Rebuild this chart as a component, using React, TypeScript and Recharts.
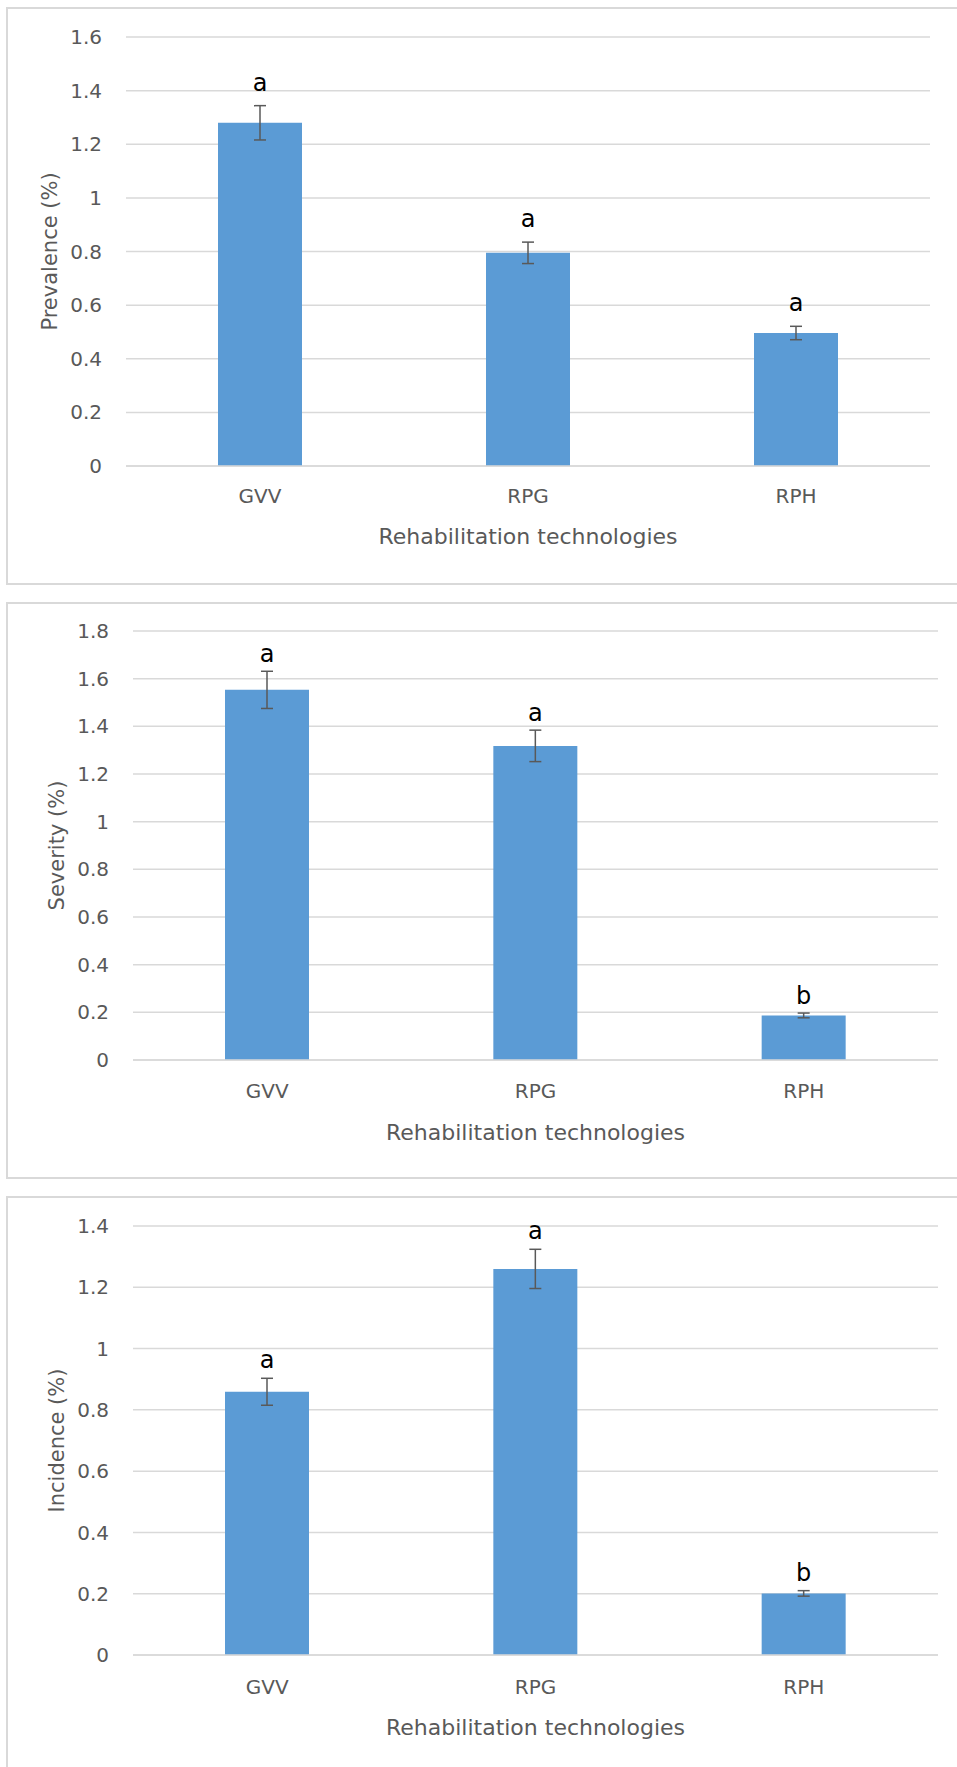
import { Bar, BarChart, CartesianGrid, ErrorBar, Label, LabelList, XAxis, YAxis } from 'recharts';

const technologies = ['GVV', 'RPG', 'RPH'];

const prevalence = [1.28, 0.795, 0.496];
const prevalenceErr = [0.064, 0.04, 0.025];
const prevalenceLetters = ['a', 'a', 'a'];
const prevalenceTicks = [0, 0.2, 0.4, 0.6, 0.8, 1, 1.2, 1.4, 1.6];

const severity = [1.553, 1.318, 0.187];
const severityErr = [0.078, 0.066, 0.01];
const severityLetters = ['a', 'a', 'b'];
const severityTicks = [0, 0.2, 0.4, 0.6, 0.8, 1, 1.2, 1.4, 1.6, 1.8];

const incidence = [0.859, 1.26, 0.201];
const incidenceErr = [0.044, 0.064, 0.009];
const incidenceLetters = ['a', 'a', 'b'];
const incidenceTicks = [0, 0.2, 0.4, 0.6, 0.8, 1, 1.2, 1.4];

const TEXT = '#595959';
const GRID = '#d9d9d9';
const BAR = '#5b9bd5';

const makeRows = (values: number[], errs: number[], letters: string[]) =>
  technologies.map((name, i) => ({ name, value: values[i], err: errs[i], letter: letters[i] }));

type PanelProps = {
  top: number;
  height: number;
  marginTop: number;
  marginBottom: number;
  marginRight: number;
  yWidth: number;
  ticks: number[];
  title: string;
  rows: ReturnType<typeof makeRows>;
  letterOffset: number;
  xTickMargin: number;
  xTitleOffset: number;
};

const Panel = (p: PanelProps) => (
  <div style={{ position: 'absolute', left: 0, top: p.top }}>
    <BarChart
      width={957}
      height={p.height}
      data={p.rows}
      margin={{ top: p.marginTop, right: p.marginRight, left: 0, bottom: p.marginBottom }}
      barSize={84}
    >
      <CartesianGrid vertical={false} stroke={GRID} strokeWidth={1.5} />
      <XAxis
        dataKey="name"
        height={90}
        tickLine={false}
        axisLine={{ stroke: GRID, strokeWidth: 1.5 }}
        tick={{ fill: TEXT, fontSize: 20 }}
        tickMargin={p.xTickMargin}
      >
        <Label
          value="Rehabilitation technologies"
          position="insideBottom"
          offset={p.xTitleOffset}
          style={{ fill: TEXT, fontSize: 22 }}
        />
      </XAxis>
      <YAxis
        width={p.yWidth}
        domain={[0, p.ticks[p.ticks.length - 1]]}
        ticks={p.ticks}
        interval={0}
        axisLine={false}
        tickLine={false}
        tickMargin={18}
        tick={{ fill: TEXT, fontSize: 20 }}
      >
        <Label
          value={p.title}
          angle={-90}
          position="insideLeft"
          offset={p.yWidth - 76}
          style={{ fill: TEXT, fontSize: 21, textAnchor: 'middle' }}
        />
      </YAxis>
      <Bar dataKey="value" stackId="s" fill={BAR} isAnimationActive={false}>
        <ErrorBar dataKey="err" width={6} stroke="#595959" strokeWidth={1.5} isAnimationActive={false} />
      </Bar>
      <Bar dataKey="err" stackId="s" fill={BAR} fillOpacity={0} isAnimationActive={false}>
        <LabelList
          dataKey="letter"
          position="top"
          offset={p.letterOffset}
          style={{ fill: '#000', fontSize: 24 }}
        />
      </Bar>
    </BarChart>
  </div>
);

const frame = (top: number, height: number) => (
  <div
    style={{
      position: 'absolute',
      left: 6,
      top,
      width: 980,
      height,
      border: `2px solid ${GRID}`,
      boxSizing: 'border-box',
    }}
  />
);

export default function App() {
  return (
    <div
      style={{
        position: 'absolute',
        left: 0,
        top: 0,
        width: 957,
        height: 1767,
        overflow: 'hidden',
        background: '#fff',
        fontFamily: '"DejaVu Sans", sans-serif',
      }}
    >
      {frame(7, 578)}
      {frame(602, 577)}
      {frame(1196, 600)}
      <Panel
        top={0}
        height={590}
        marginTop={37}
        marginBottom={34}
        marginRight={27}
        yWidth={126}
        ticks={prevalenceTicks}
        title="Prevalence (%)"
        rows={makeRows(prevalence, prevalenceErr, prevalenceLetters)}
        letterOffset={15}
        xTickMargin={17}
        xTitleOffset={12}
      />
      <Panel
        top={590}
        height={590}
        marginTop={41}
        marginBottom={30}
        marginRight={19}
        yWidth={133}
        ticks={severityTicks}
        title="Severity (%)"
        rows={makeRows(severity, severityErr, severityLetters)}
        letterOffset={9}
        xTickMargin={18}
        xTitleOffset={10}
      />
      <Panel
        top={1180}
        height={587}
        marginTop={46}
        marginBottom={22}
        marginRight={19}
        yWidth={133}
        ticks={incidenceTicks}
        title="Incidence (%)"
        rows={makeRows(incidence, incidenceErr, incidenceLetters)}
        letterOffset={10}
        xTickMargin={19}
        xTitleOffset={10}
      />
    </div>
  );
}
